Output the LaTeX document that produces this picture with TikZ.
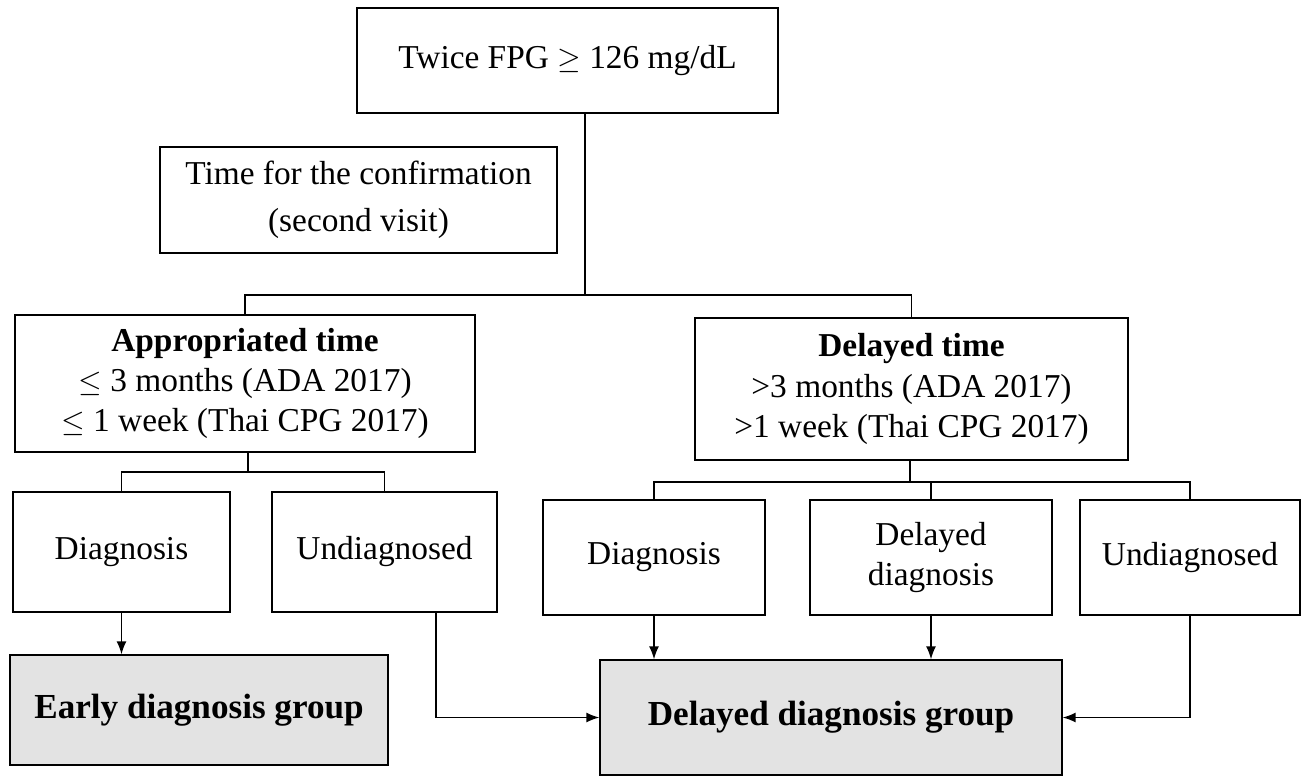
\documentclass[tikz,border=0pt]{standalone}
\usepackage{fontspec}
\setmainfont{Liberation Serif}
\usetikzlibrary{arrows.meta,positioning,calc}

\begin{document}
\begin{tikzpicture}[x=0.02cm,y=-0.02cm,
    box/.style={draw, line width=0.8pt, align=center, inner sep=0pt,
      font=\fontsize{19}{23}\selectfont},
    grp/.style={box, fill=gray!22, font=\fontsize{20}{24}\selectfont\bfseries},
    link/.style={line width=0.8pt},
    arr/.style={line width=0.8pt, -{Latex[length=2.6mm,width=2mm]}}]
   \useasboundingbox (0,0) rectangle (1305,779);
   % Define nodes
   \node[box, minimum width=8.42cm, minimum height=2.1cm] (top) at (567.5,60.5) {Twice FPG $\geq$ 126 mg/dL};
   \node[box, minimum width=7.94cm, minimum height=2.12cm] (conf) at (358.5,200) {Time for the confirmation\\[4pt](second visit)};
   \node[box, minimum width=9.2cm, minimum height=2.74cm] (appr) at (245,383.5) {\textbf{Appropriated time}\\$\leq$ 3 months (ADA 2017)\\$\leq$ 1 week (Thai CPG 2017)};
   \node[box, minimum width=8.66cm, minimum height=2.84cm] (delt) at (911.5,389) {\textbf{Delayed time}\\>3 months (ADA 2017)\\>1 week (Thai CPG 2017)};
   \node[box, minimum width=4.34cm, minimum height=2.4cm] (diagL) at (121.5,552) {Diagnosis};
   \node[box, minimum width=4.5cm, minimum height=2.4cm] (undL) at (384.5,552) {Undiagnosed};
   \node[box, minimum width=4.44cm, minimum height=2.3cm] (diagR) at (654,557.5) {Diagnosis};
   \node[box, minimum width=4.84cm, minimum height=2.3cm] (ddiag) at (931,557.5) {Delayed\\diagnosis};
   \node[box, minimum width=4.4cm, minimum height=2.3cm] (undR) at (1190,557.5) {Undiagnosed};
   \node[grp, minimum width=7.56cm, minimum height=2.2cm] (early) at (199,710) {Early diagnosis group};
   \node[grp, minimum width=9.24cm, minimum height=2.3cm] (dgrp) at (831,717.5) {Delayed diagnosis group};

   % Split points
   \coordinate (s1) at (585,295);
   \coordinate (s2) at (248,472);
   \coordinate (s3) at (910,482);

   % Draw edges
   \draw[link] (top.south -| s1) -- (s1);
   \draw[link] (appr.north) |- (s1) -| (delt.north);
   \draw[link] (appr.south -| s2) -- (s2);
   \draw[link] (diagL.north) |- (s2) -| (undL.north);
   \draw[link] (delt.south -| s3) -- (s3);
   \draw[link] (diagR.north) |- (s3) -| (undR.north);
   \draw[link] (ddiag.north) -- (ddiag.north |- s3);
   \draw[arr] (diagL.south) -- (diagL.south |- early.north);
   \draw[arr] ($(undL.south)+(51.5,0)$) |- (dgrp.west);
   \draw[arr] (diagR.south) -- (diagR.south |- dgrp.north);
   \draw[arr] (ddiag.south) -- (ddiag.south |- dgrp.north);
   \draw[arr] (undR.south) |- (dgrp.east);
\end{tikzpicture}
\end{document}
